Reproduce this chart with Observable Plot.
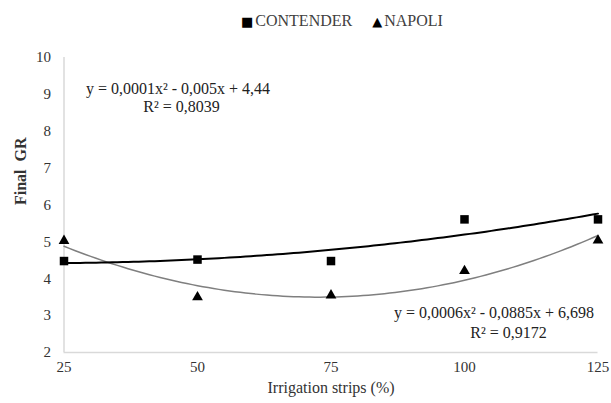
<!DOCTYPE html>
<html>
<head>
<meta charset="utf-8">
<script src="https://cdn.jsdelivr.net/npm/d3@7"></script>
<script src="https://cdn.jsdelivr.net/npm/@observablehq/plot@0.6"></script>
<style>
  html, body { margin: 0; padding: 0; background: #fff; }
  #wrap { position: relative; width: 611px; height: 403px; font-family: "Liberation Serif", "Times New Roman", serif; color: #333; }
  #wrap svg, #wrap svg text { font-family: "Liberation Serif", "Times New Roman", serif !important; }
  #legend { position: absolute; top: 12px; left: 241px; font-size: 16px; display: flex; align-items: center; white-space: nowrap; font-family: "Liberation Serif", "Times New Roman", serif; color: #404040; }
  #legend span.sym { font-size: 13px; color: #000; margin-right: 2px; font-family: "DejaVu Sans", sans-serif; }
  #legend span.item { margin-right: 20px; display: flex; align-items: center; }
</style>
</head>
<body>
<div id="wrap"><div id="chart"></div><div id="legend"></div></div>
<script>
// ---- data ----
const xValues = [25, 50, 75, 100, 125];
const contenderValues = [4.48, 4.52, 4.48, 5.61, 5.61];
const napoliValues = [5.03, 3.50, 3.55, 4.21, 5.04];
const seriesNames = ["CONTENDER", "NAPOLI"];
const yTicks = [2, 3, 4, 5, 6, 7, 8, 9, 10];
const eqContender = ["y = 0,0001x² - 0,005x + 4,44", "R² = 0,8039"];
const eqNapoli = ["y = 0,0006x² - 0,0885x + 6,698", "R² = 0,9172"];
const xTitle = "Irrigation strips (%)";
const yTitle = "Final\u00A0\u00A0GR";

// least-squares quadratic fit (Excel polynomial trendline, order 2)
function quadFit(xs, ys) {
  const S = [0, 0, 0, 0, 0], T = [0, 0, 0];
  xs.forEach((x, i) => {
    for (let k = 0; k < 5; k++) S[k] += Math.pow(x, k);
    for (let k = 0; k < 3; k++) T[k] += ys[i] * Math.pow(x, k);
  });
  const M = [[S[0], S[1], S[2], T[0]], [S[1], S[2], S[3], T[1]], [S[2], S[3], S[4], T[2]]];
  for (let i = 0; i < 3; i++) {
    for (let j = i + 1; j < 3; j++) {
      const f = M[j][i] / M[i][i];
      for (let k = i; k < 4; k++) M[j][k] -= f * M[i][k];
    }
  }
  const c = [0, 0, 0];
  for (let i = 2; i >= 0; i--) {
    let s = M[i][3];
    for (let k = i + 1; k < 3; k++) s -= M[i][k] * c[k];
    c[i] = s / M[i][i];
  }
  return x => c[0] + c[1] * x + c[2] * x * x;
}

const pointsC = xValues.map((x, i) => ({x, y: contenderValues[i]}));
const pointsN = xValues.map((x, i) => ({x, y: napoliValues[i]}));
const fC = quadFit(xValues, contenderValues);
const fN = quadFit(xValues, napoliValues);
const xs = d3.range(xValues[0], xValues[xValues.length - 1] + 0.001, 1);
const curveC = xs.map(x => ({x, y: fC(x)}));
const curveN = xs.map(x => ({x, y: fN(x)}));

const font = '"Liberation Serif", "Times New Roman", serif';

const chart = Plot.plot({
  width: 611,
  height: 403,
  marginLeft: 63.5,
  marginRight: 13.5,
  marginTop: 57,
  marginBottom: 51,
  style: { fontFamily: font, fontSize: "15px", color: "#333", background: "white", overflow: "visible" },
  x: { domain: [25, 125], ticks: xValues, tickSize: 0, tickPadding: 9, label: null },
  y: { domain: [2, 10], ticks: yTicks, tickSize: 0, tickPadding: 13, label: null },
  marks: [
    Plot.ruleY([2], { stroke: "#d9d9d9", strokeWidth: 1.5 }),
    Plot.ruleX([25], { stroke: "#d9d9d9", strokeWidth: 1.5 }),
    Plot.line(curveN, { x: "x", y: "y", stroke: "#7f7f7f", strokeWidth: 1.5 }),
    Plot.line(curveC, { x: "x", y: "y", stroke: "#000", strokeWidth: 2 }),
    Plot.dot(pointsC, { x: "x", y: "y", symbol: "square", r: 4.8, fill: "#000", stroke: "none" }),
    Plot.dot(pointsN, { x: "x", y: "y", symbol: "triangle", r: 4, fill: "#000", stroke: "none" }),
    Plot.text([eqContender[0]], { text: d => d, frameAnchor: "top-left", textAnchor: "middle", dx: 114, dy: 25, fill: "#222", fontSize: 16 }),
    Plot.text([eqContender[1]], { text: d => d, frameAnchor: "top-left", textAnchor: "middle", dx: 117.5, dy: 43, fill: "#222", fontSize: 16 }),
    Plot.text([eqNapoli[0]], { text: d => d, frameAnchor: "bottom-right", textAnchor: "middle", dx: -104, dy: -35, fill: "#222", fontSize: 16 }),
    Plot.text([eqNapoli[1]], { text: d => d, frameAnchor: "bottom-right", textAnchor: "middle", dx: -89.5, dy: -15, fill: "#222", fontSize: 16 }),
    Plot.text([xTitle], { text: d => d, frameAnchor: "bottom", dy: 40, fill: "#333", fontSize: 16 }),
    Plot.text([yTitle], { text: d => d, frameAnchor: "left", rotate: -90, dx: -43.5, fill: "#333", fontSize: 16, fontWeight: "bold" })
  ]
});
document.getElementById("chart").appendChild(chart);

// legend
const legend = document.getElementById("legend");
const symbols = ["■", "▲"];
seriesNames.forEach((name, i) => {
  const item = document.createElement("span");
  item.className = "item";
  const s = document.createElement("span");
  s.className = "sym";
  s.textContent = symbols[i];
  const t = document.createElement("span");
  t.textContent = name;
  item.appendChild(s);
  item.appendChild(t);
  legend.appendChild(item);
});
</script>
</body>
</html>
